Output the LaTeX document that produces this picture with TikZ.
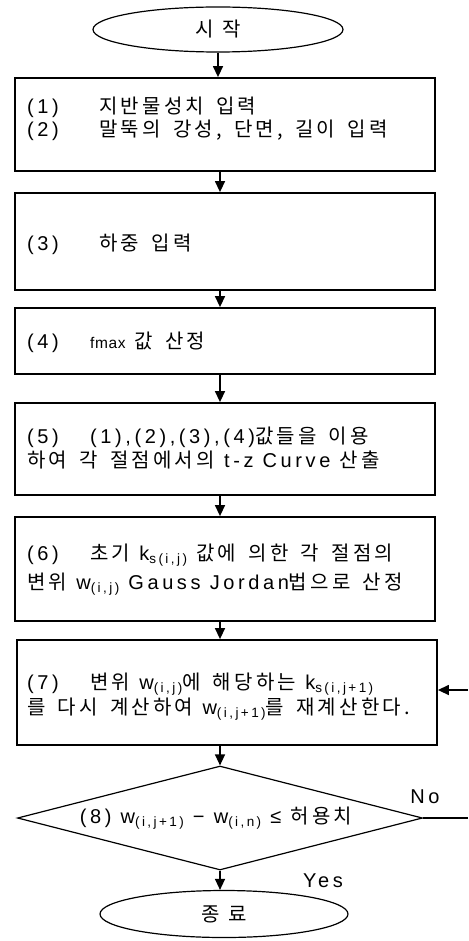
\documentclass[tikz,border=0pt]{standalone}
\usepackage{fontspec}
\setmainfont{Liberation Sans}[LetterSpace=18]
\newfontfamily\kr{Noto Sans CJK KR}[LetterSpace=16,WordSpace=1.6]
\newfontfamily\smallsans{Liberation Sans}[LetterSpace=4]
\usetikzlibrary{shapes.geometric,arrows.meta}
\newcommand\K[1]{{\kr\fontsize{20}{21}\selectfont #1}}
\newcommand\sbx[1]{\raisebox{-3pt}{\fontsize{13.5}{13.5}\selectfont #1}}
\newcommand\numA[1]{\makebox[72pt][l]{#1}}
\newcommand\numB[1]{\makebox[63pt][l]{#1}}
\begin{document}
\begin{tikzpicture}[x=1pt,y=-1pt,
  box/.style={draw, line width=1.8pt, minimum width=420pt, inner sep=0pt},
  term/.style={draw, ellipse, line width=1.2pt, inner sep=0pt, font=\fontsize{20}{21}\selectfont},
  txt/.style={anchor=base west, inner sep=0pt, font=\fontsize{20}{21}\selectfont},
  lbl/.style={inner sep=0pt, font=\fontsize{20}{21}\selectfont},
  arr/.style={line width=1.4pt, -{Triangle[length=11pt,width=10pt]}},
  dia/.style={draw, diamond, line width=1.2pt, inner sep=0pt}]
\useasboundingbox (0,0) rectangle (468,941);
\coordinate (col) at (220,0);
% terminals
\node[term, minimum width=250pt, minimum height=45pt] (start) at (218,29.5) {\K{시\hspace{8pt}작}};
\node[term, minimum width=248pt, minimum height=47pt] (end) at (224,914) {\K{종\hspace{8pt}료}};
% boxes
\node[box, minimum height=93pt] (b1) at (225,124.5) {};
\node[box, minimum height=97pt] (b2) at (225,241.5) {};
\node[box, minimum height=66pt] (b3) at (225,341) {};
\node[box, minimum height=92pt] (b4) at (225,449) {};
\node[box, minimum height=104pt] (b5) at (225,569) {};
\node[box, minimum height=105pt] (b6) at (227,692.5) {};
\node[dia, minimum width=405pt, minimum height=104pt] (d) at (220,818) {};
% texts
\node[txt] (t1a) at (27,114) {\numA{(1)}\K{지반물성치 입력}};
\node[txt] (t1b) at (27,137) {\numA{(2)}\K{말뚝의 강성, 단면, 길이 입력}};
\node[txt] (t2) at (27,250) {\numA{(3)}\K{하중 입력}};
\node[txt] (t3) at (27,348) {\numB{(4)}{\smallsans\fontsize{15.5}{15.5}\selectfont fmax}\hspace{9pt}\K{값 산정}};
\node[txt] (t4a) at (27,443) {\numB{(5)}(1),(2),(3),(4)\K{값들을 이용}};
\node[txt] (t4b) at (27,467) {\K{하여 각 절점에서의} t-z Curve \K{산출}};
\node[txt] (t5a) at (27,560) {\numB{(6)}\K{초기} k\sbx{s(i,j)} \K{값에 의한 각 절점의}};
\node[txt] (t5b) at (27,589) {\K{변위} w\sbx{(i,j)} Gauss Jordan\K{법으로 산정}};
\node[txt] (t6a) at (27,689) {\numB{(7)}\K{변위} w\sbx{(i,j)}\K{에 해당하는} k\sbx{s(i,j+1)}};
\node[txt] (t6b) at (27,714) {\K{를 다시 계산하여} w\sbx{(i,j+1)}\K{를 재계산한다.}};
\node[lbl] (t8) at (216,818) {(8) w\sbx{(i,j+1)} − w\sbx{(i,n)} ≤ \K{허용치}};
\node[lbl] (no) at (425,797) {No};
\node[lbl] (yes) at (323,881) {Yes};
% connectors
\draw[arr] (start.south) -- (b1.north -| start.south);
\draw[arr] (b1.south -| col) -- (b2.north -| col);
\draw[arr] (b2.south -| col) -- (b3.north -| col);
\draw[arr] (b3.south -| col) -- (b4.north -| col);
\draw[arr] (b4.south -| col) -- (b5.north -| col);
\draw[arr] (b5.south -| col) -- (b6.north -| col);
\draw[arr] (b6.south -| col) -- (d.north);
\draw[arr] (d.south) -- (end.north -| d.south);
\coordinate (fb1) at (468,818);
\coordinate (fb2) at (468,690);
\draw[line width=1.4pt] (d.east) -- (fb1);
\draw[arr] (fb2) -- (fb2 -| b6.east);
\end{tikzpicture}
\end{document}
